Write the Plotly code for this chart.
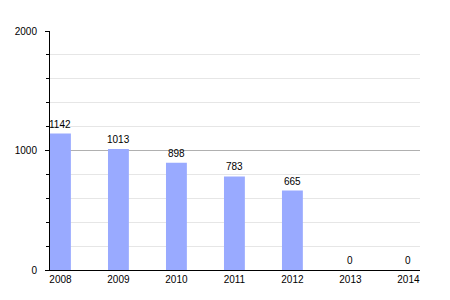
import plotly.graph_objects as go

years = ["2008", "2009", "2010", "2011", "2012", "2013", "2014"]
values = [1142, 1013, 898, 783, 665, 0, 0]
xpos = list(range(len(years)))

fig = go.Figure()
fig.add_trace(go.Bar(
    x=xpos, y=values, width=0.36,
    marker=dict(color="#99aaff", line=dict(width=0)),
    cliponaxis=False,
))
for x, v in zip(xpos, values):
    fig.add_annotation(x=x, y=v, text=str(v), showarrow=False,
                       yanchor="bottom", yshift=2,
                       font=dict(size=10, color="black",
                                 family="Liberation Sans, Arial"))
fig.update_layout(
    width=450, height=300,
    margin=dict(l=50, r=30, t=31, b=30),
    paper_bgcolor="white", plot_bgcolor="white",
    showlegend=False,
    font=dict(family="Liberation Sans, Arial", size=10, color="black"),
    xaxis=dict(
        tickmode="array", tickvals=xpos, ticktext=years,
        range=[-0.18, 6.2], showgrid=False, zeroline=False,
        showline=True, linecolor="black", linewidth=1,
        ticks="", ticklabelstandoff=0,
    ),
    yaxis=dict(
        range=[0, 2000], tickvals=[0, 1000, 2000],
        showgrid=True, gridcolor="#b0b0b0", gridwidth=1,
        zeroline=False, showline=True, linecolor="black", linewidth=1,
        ticks="outside", ticklen=4, tickcolor="black",
        ticklabelstandoff=6,
        minor=dict(dtick=200, showgrid=True, gridcolor="#e6e6e6",
                   ticks="outside", ticklen=3, tickcolor="black"),
    ),
)
fig.write_html("out.html")
